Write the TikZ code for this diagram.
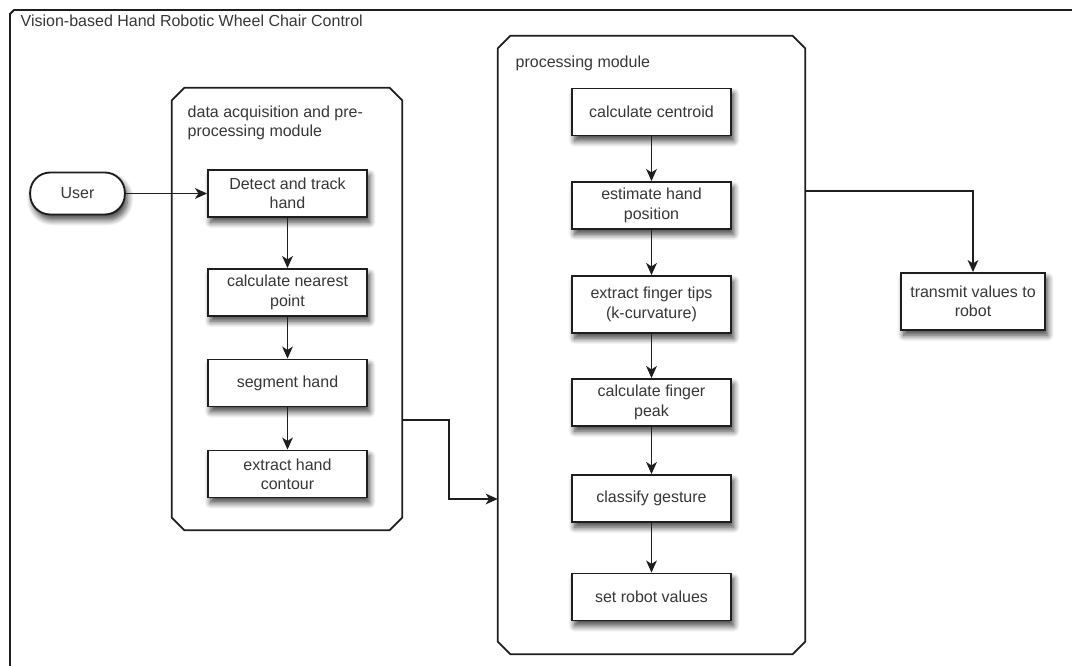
\documentclass[tikz,border=0pt]{standalone}
\usepackage{fontspec}
\setmainfont{Liberation Sans}
\usetikzlibrary{arrows.meta,shadows.blur}
\definecolor{wcline}{RGB}{30,30,30}
\definecolor{wctext}{RGB}{55,55,55}

% chamfered outline round a module node
\newcommand\modframe[1]{%
  \draw[wcline, line width=1.4pt]
    ([yshift=-9.5pt]#1.north west) -- ([xshift=9.5pt]#1.north west)
    -- ([xshift=-9.5pt]#1.north east) -- ([yshift=-9.5pt]#1.north east)
    -- ([yshift=9.5pt]#1.south east) -- ([xshift=-9.5pt]#1.south east)
    -- ([xshift=9.5pt]#1.south west) -- ([yshift=9.5pt]#1.south west) -- cycle;}

\begin{document}
\begin{tikzpicture}[x=0.75pt, y=-0.75pt,
  font=\fontsize{12}{14.5}\selectfont, text=wctext,
  boxshadow/.style={blur shadow={shadow xshift=2pt, shadow yshift=-4pt,
      shadow blur steps=8, shadow blur radius=4.5pt, shadow opacity=75}},
  stepbox/.style={draw=wcline, line width=1.4pt, fill=white, align=center,
    minimum width=119.25pt, minimum height=35.25pt, inner sep=2pt, boxshadow},
  module/.style={minimum width=#1, inner sep=0pt},
  flow/.style={draw=wcline, line width=1.4pt,
    -{Stealth[length=9pt, width=8pt, inset=2.5pt]}}]
\useasboundingbox (0,0) rectangle (1072,665);

% Outer frame and title
\draw[wcline, line width=1.4pt] (10,680) -- (10,14) -- (14,10) -- (1090,10);
\node[anchor=west] (title) at (16,21) {Vision-based Hand Robotic Wheel Chair Control};

% Modules
\node[module=172.5pt, minimum height=331.5pt] (acq) at (287,309) {};
\node[module=230.25pt, minimum height=463.5pt] (proc) at (651.5,345) {};
\modframe{acq}
\modframe{proc}
\node[anchor=north west, align=left] (acqlabel) at (183,101) {data acquisition and pre-\\processing module};
\node[anchor=west] (proclabel) at (511,63) {processing module};

% User
\node[draw=wcline, line width=1.4pt, fill=white, rounded corners=15pt,
  minimum width=71pt, minimum height=31.5pt, boxshadow] (user) at (77.5,193.5) {User};

% Data acquisition steps
\node[stepbox] (detect) at (287.5,193.5) {Detect and track\\hand};
\node[stepbox] (nearest) at (287.5,292.5) {calculate nearest\\point};
\node[stepbox] (segment) at (287.5,383) {segment hand};
\node[stepbox] (contour) at (287.5,474) {extract hand\\contour};

% Processing steps
\node[stepbox] (centroid) at (651.5,112) {calculate centroid};
\node[stepbox] (estimate) at (651.5,205.5) {estimate hand\\position};
\node[stepbox, minimum height=42.75pt] (tips) at (651.5,304.5) {extract finger tips\\(k-curvature)};
\node[stepbox] (peak) at (651.5,402.5) {calculate finger\\peak};
\node[stepbox] (classify) at (651.5,498.5) {classify gesture};
\node[stepbox] (setval) at (651.5,597) {set robot values};

% Output
\node[stepbox, minimum width=108pt, minimum height=42.75pt] (transmit) at (973,301.5) {transmit values to\\robot};

% Arrows
\draw[flow] (user) -- (detect);
\draw[flow] (detect) -- (nearest);
\draw[flow] (nearest) -- (segment);
\draw[flow] (segment) -- (contour);

\draw[flow] (centroid) -- (estimate);
\draw[flow] (estimate) -- (tips);
\draw[flow] (tips) -- (peak);
\draw[flow] (peak) -- (classify);
\draw[flow] (classify) -- (setval);

\draw[flow] (acq.east |- 0,420) -- ++(47,0) |- (proc.west |- 0,499);
\draw[flow] (proc.east |- 0,191) -| (transmit.north);
\end{tikzpicture}
\end{document}
